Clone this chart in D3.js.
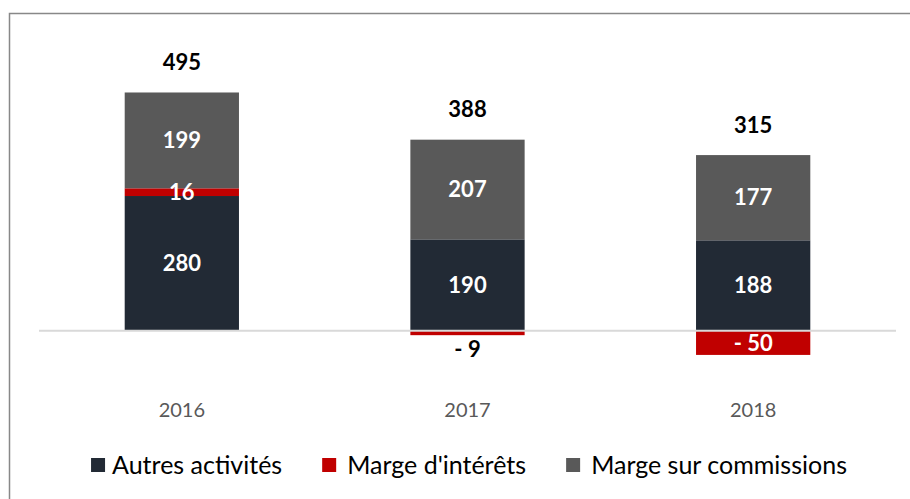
<!DOCTYPE html>
<html>
<head>
<meta charset="utf-8">
<script src="https://cdn.jsdelivr.net/npm/d3@7"></script>
<style>
  body { margin: 0; background: #fff; }
  svg { display: block; font-family: Lato, "Open Sans", sans-serif; }
</style>
</head>
<body>
<div id="chart"></div>
<script>
// Chart data
var years = ["2016", "2017", "2018"];
var seriesNames = ["Autres activités", "Marge d'intérêts", "Marge sur commissions"];
var autres = [280, 190, 188];
var interets = [16, -9, -50];
var commissions = [199, 207, 177];
var totals = [495, 388, 315];
var colors = ["#222a35", "#c00000", "#595959"];

var width = 910, height = 499;
var margin = {top: 66, right: 14, bottom: 120, left: 39};

var svg = d3.select("#chart").append("svg")
    .attr("width", width)
    .attr("height", height);

// Outer frame (only left and top edges are visible)
svg.append("rect")
    .attr("x", 9.5).attr("y", 13.5)
    .attr("width", width + 20).attr("height", height + 20)
    .attr("fill", "none")
    .attr("stroke", "#888888")
    .attr("stroke-width", 1.5);

var rows = years.map(function(y, i) {
    return {year: y, a: autres[i], m: interets[i], c: commissions[i], total: totals[i]};
});

var stack = d3.stack()
    .keys(["a", "m", "c"])
    .offset(d3.stackOffsetDiverging);
var layers = stack(rows);

var x = d3.scaleBand()
    .domain(years)
    .range([margin.left, width - margin.right])
    .paddingInner(0.6)
    .paddingOuter(0.3);

var y = d3.scaleLinear()
    .domain([-100, 550])
    .range([height - margin.bottom, margin.top]);

// Bars
var g = svg.append("g");
layers.forEach(function(layer, li) {
    g.selectAll(".bar" + li)
        .data(layer)
        .enter()
        .append("rect")
        .attr("x", function(d) { return x(d.data.year); })
        .attr("width", x.bandwidth())
        .attr("y", function(d) { return y(d[1]); })
        .attr("height", function(d) { return y(d[0]) - y(d[1]); })
        .attr("fill", colors[li]);
});

// Zero line
svg.append("line")
    .attr("x1", margin.left).attr("x2", width - margin.right)
    .attr("y1", y(0)).attr("y2", y(0))
    .attr("stroke", "#d9d9d9")
    .attr("stroke-width", 2);

// Segment labels
function fmt(v) { return v < 0 ? "- " + Math.abs(v) : String(v); }

layers.forEach(function(layer, li) {
    g.selectAll(".lab" + li)
        .data(layer)
        .enter()
        .append("text")
        .attr("x", function(d) { return x(d.data.year) + x.bandwidth() / 2; })
        .attr("y", function(d) {
            var v = d.data[layer.key];
            var h = y(d[0]) - y(d[1]);
            if (v < 0 && h < 12) return y(d[0]) + 14;
            return (y(d[0]) + y(d[1])) / 2;
        })
        .attr("dy", "0.35em")
        .attr("text-anchor", "middle")
        .attr("font-size", 22)
        .attr("font-weight", "bold")
        .attr("fill", function(d) {
            var v = d.data[layer.key];
            var h = y(d[0]) - y(d[1]);
            return (v < 0 && h < 12) ? "#000" : "#fff";
        })
        .text(function(d) { return fmt(d.data[layer.key]); });
});

// Totals above the bars
svg.selectAll(".total")
    .data(rows)
    .enter()
    .append("text")
    .attr("x", function(d) { return x(d.year) + x.bandwidth() / 2; })
    .attr("y", function(d) { return y(d.a + Math.max(d.m, 0) + d.c) - 30; })
    .attr("dy", "0.35em")
    .attr("text-anchor", "middle")
    .attr("font-size", 22)
    .attr("font-weight", "bold")
    .attr("fill", "#000")
    .text(function(d) { return d.total; });

// Category axis labels
svg.selectAll(".cat")
    .data(years)
    .enter()
    .append("text")
    .attr("x", function(d) { return x(d) + x.bandwidth() / 2; })
    .attr("y", 410)
    .attr("dy", "0.35em")
    .attr("text-anchor", "middle")
    .attr("font-size", 20)
    .attr("fill", "#595959")
    .text(function(d) { return d; });

// Legend
var legend = svg.append("g");
var lx = 0;
seriesNames.forEach(function(name, i) {
    var off = i === 0 ? 21 : 25;
    var item = legend.append("g").attr("transform", "translate(" + lx + ",0)");
    item.append("rect")
        .attr("x", 0).attr("y", -7)
        .attr("width", 14).attr("height", 14)
        .attr("fill", colors[i]);
    var t = item.append("text")
        .attr("x", off)
        .attr("y", 0)
        .attr("dy", "0.35em")
        .attr("font-size", 25)
        .attr("fill", "#000")
        .text(name);
    lx += off + t.node().getComputedTextLength() + 40;
});
var lw = lx - 40;
legend.attr("transform", "translate(" + (469 - lw / 2) + ",465)");
</script>
</body>
</html>
